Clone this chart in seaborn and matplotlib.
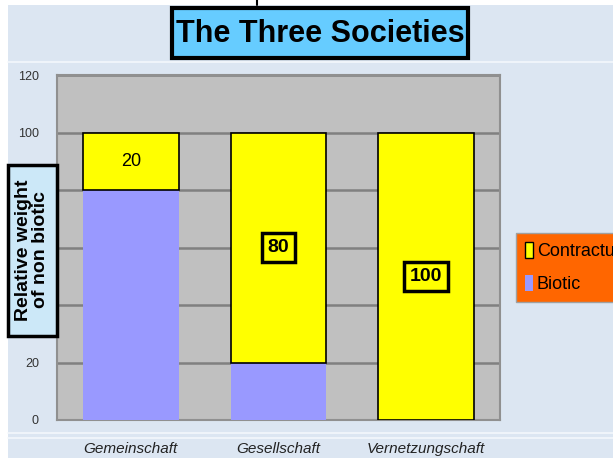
import numpy as np
import pandas as pd
import matplotlib
matplotlib.use("Agg")
import matplotlib.pyplot as plt
import seaborn as sns
from matplotlib.patches import Patch, Rectangle
from matplotlib.lines import Line2D

societies = ["Gemeinschaft", "Gesellschaft", "Vernetzungschaft"]
biotic = [80, 20, 0]
contractual = [20, 80, 100]
y_ticks = [0, 20, 40, 60, 80, 100, 120]
y_ticklabels = ["0", "20", "", "", "", "100", "120"]  # 40-80 hidden behind the label box

df = pd.DataFrame({"society": societies, "biotic": biotic, "contractual": contractual})

sns.set_style("white")
plt.rcParams["font.family"] = ["Liberation Sans", "DejaVu Sans"]
plt.rcParams["text.color"] = "black"

W, H = 613, 458
fig = plt.figure(figsize=(6.13, 4.58), dpi=100)
fig.patch.set_facecolor("#dce6f2")


def px_box(x0, y0, x1, y1, **kw):
    # rectangle given in screenshot pixels (top-left origin)
    r = Rectangle((x0 / W, 1 - y1 / H), (x1 - x0) / W, (y1 - y0) / H,
                  transform=fig.transFigure, **kw)
    fig.patches.append(r)


# white frame strips of the screenshot
px_box(0, 0, W, 5, facecolor="white", edgecolor="none", zorder=0)
px_box(0, 0, 8, H, facecolor="white", edgecolor="none", zorder=0)
fig.lines.append(Line2D([257 / W, 257 / W], [1, 1 - 5 / H], transform=fig.transFigure,
                        color="black", lw=1.5))
for yy in [62, 433, 438]:
    fig.lines.append(Line2D([8 / W, 1], [1 - yy / H] * 2, transform=fig.transFigure,
                            color="#f4f8fc", lw=1.2))

ax = fig.add_axes([57 / W, 38 / H, 443 / W, 345 / H])
ax.set_facecolor("#c0c0c0")

sns.barplot(data=df, x="society", y="biotic", color="#9999ff", saturation=1,
            width=0.65, edgecolor="none", ax=ax, zorder=3)
sns.barplot(data=df, x="society", y="contractual", bottom=df["biotic"], color="#ffff00",
            saturation=1, width=0.65, edgecolor="black", linewidth=1.2, ax=ax, zorder=3)

ax.set_xlim(-0.5, 2.5)
ax.set_ylim(0, 120)
ax.set_yticks(y_ticks)
ax.set_yticklabels(y_ticklabels)
ax.yaxis.grid(True, color="#808080", lw=1.8, zorder=1)
ax.set_axisbelow(True)
for s in ax.spines.values():
    s.set_color("#909090")
    s.set_linewidth(1.5)
ax.tick_params(axis="y", length=0, pad=13, labelsize=9, labelcolor="#333333")
ax.tick_params(axis="x", length=0, pad=16, labelsize=11, labelcolor="#222222")
for t in ax.get_xticklabels():
    t.set_fontstyle("italic")
ax.set_xlabel("")
ax.set_ylabel("")

# data labels
for i, (b, c) in enumerate(zip(biotic, contractual)):
    ypos = b + c / 2
    if i == 0:
        ax.text(i, ypos, str(c), ha="center", va="center", fontsize=13, zorder=5)
    else:
        ax.text(i, ypos, str(c), ha="center", va="center", fontsize=14, zorder=5,
                fontweight="bold",
                bbox=dict(boxstyle="square,pad=0.3", facecolor="#ffff00", edgecolor="black", lw=2.5))

# title
px_box(172, 8, 468, 58, facecolor="#66ccff", edgecolor="black", lw=3, zorder=2)
fig.text(320 / W, 1 - 34 / H, "The Three Societies", ha="center", va="center",
         fontsize=22, fontweight="bold", zorder=3)

# y label box
px_box(8, 165, 57, 336, facecolor="#cce8f8", edgecolor="black", lw=2.5, zorder=2)
fig.text(32 / W, 1 - 250 / H, "Relative weight\nof non biotic", ha="center", va="center",
         rotation=90, fontsize=14, fontweight="bold", linespacing=1.0, zorder=3)

handles = [Patch(facecolor="#ffff00", edgecolor="black", label="Contractual"),
           Patch(facecolor="#9999ff", edgecolor="none", label="Biotic")]
leg = fig.legend(handles=handles, loc="upper left", bbox_to_anchor=(516 / W, 1 - 233 / H),
                 frameon=True, fancybox=False, fontsize=13, handlelength=0.45,
                 handleheight=1.0, handletextpad=0.2, borderpad=0.5, labelspacing=0.8,
                 borderaxespad=0)
leg.get_frame().set_facecolor("#ff6600")
leg.get_frame().set_edgecolor("#a0a0a0")
leg.get_frame().set_alpha(1)

fig.savefig("out.png", dpi=100, facecolor=fig.get_facecolor())
